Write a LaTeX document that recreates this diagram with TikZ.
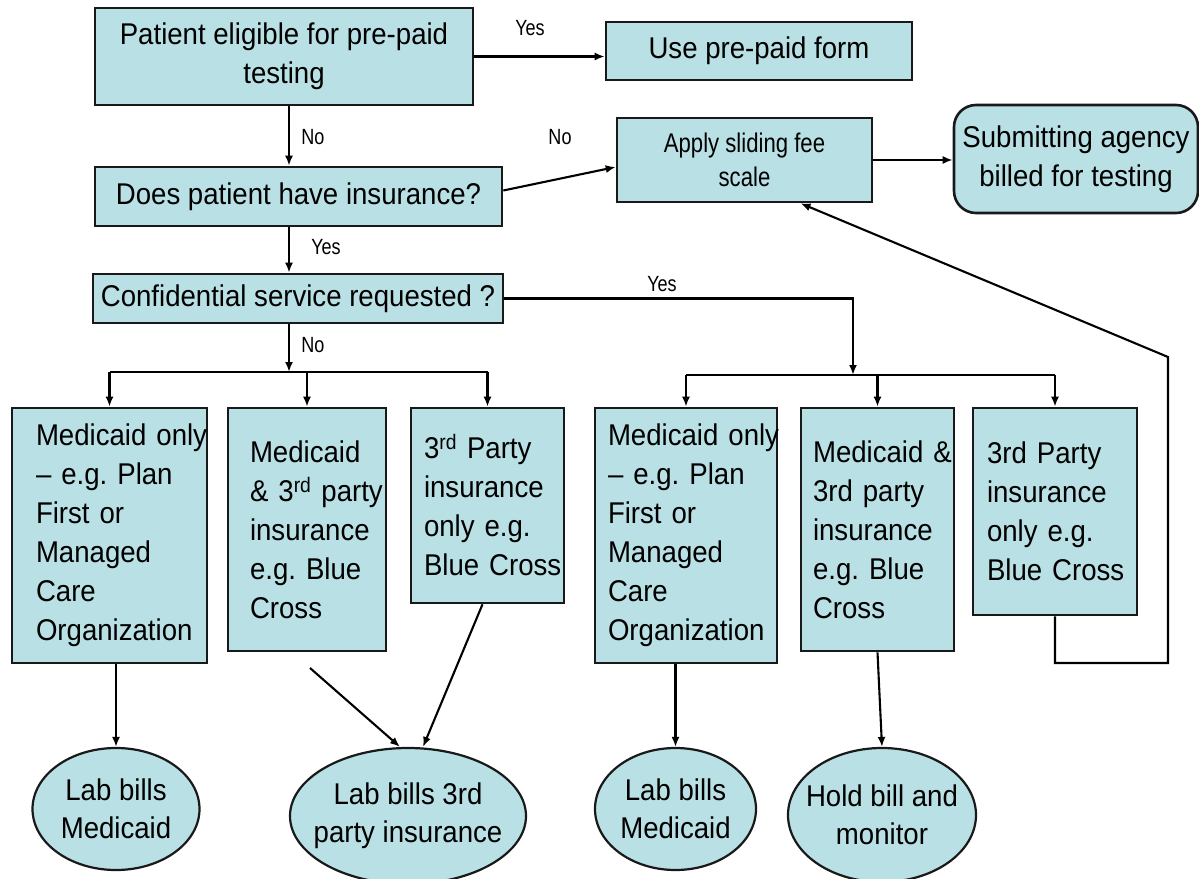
\documentclass[tikz,border=0pt]{standalone}
\usepackage{fontspec}
\setmainfont{Liberation Sans}[FakeStretch=0.92]
\newfontfamily\narrowfont{Liberation Sans}[FakeStretch=0.82]
\usetikzlibrary{arrows.meta,shapes.geometric,calc}

\definecolor{boxfill}{RGB}{185,224,228}

\begin{document}
\begin{tikzpicture}[x=1pt,y=-1pt,
  box/.style={draw=black!90, fill=boxfill, line width=2.6pt, inner sep=0pt, align=center,
    font=\fontsize{30}{39}\selectfont},
  cell/.style={box, align=left},
  bill/.style={ellipse, draw=black!90, fill=boxfill, line width=2.2pt, inner sep=-20pt,
    align=center, font=\fontsize{30}{38}\selectfont},
  arrow/.style={-{Latex[length=10pt,width=8pt]}, line width=2.1pt},
  bus/.style={line width=2.1pt},
  choice/.style={font=\narrowfont\fontsize{22}{24}\selectfont, inner sep=0pt}
]
  \useasboundingbox (0,0) rectangle (1199,878);

  % questions
  \node[box, minimum width=378pt, minimum height=97pt] (elig) at (284,56.5)
    {Patient eligible for pre-paid\\testing};
  \node[box, minimum width=306pt, minimum height=58pt] (prepaid) at (759,51)
    {Use pre-paid form};
  \node[box, minimum width=407pt, minimum height=59pt] (ins) at (298.5,196.5)
    {Does patient have insurance?};
  \node[box, minimum width=255pt, minimum height=84pt,
    font=\narrowfont\fontsize{27}{34}\selectfont] (apply) at (744.5,160)
    {Apply sliding fee\\scale};
  \node[box, rounded corners=22pt, minimum width=244pt, minimum height=108pt]
    (agency) at (1076,159) {Submitting agency\\billed for testing};
  \node[box, minimum width=410pt, minimum height=49pt] (conf) at (298,298.5)
    {Confidential service requested ?};

  % coverage
  \node[cell, minimum width=195pt, minimum height=255pt, text width=147pt]
    (l1) at (109.5,535.5)
    {Medicaid~only\\–~e.g.~Plan\\First~or\\Managed\\Care\\Organization};
  \node[cell, minimum width=158pt, minimum height=243pt, text width=114pt]
    (l2) at (307,529.5)
    {Medicaid\\\&~3\textsuperscript{rd}~party\\insurance\\e.g.~Blue\\Cross};
  \node[cell, minimum width=153pt, minimum height=195pt, text width=127pt]
    (l3) at (487.5,505.5)
    {3\textsuperscript{rd}~Party\\insurance\\only~e.g.\\Blue~Cross};
  \node[cell, minimum width=182pt, minimum height=255pt, text width=156pt]
    (r1) at (686,535.5)
    {Medicaid~only\\–~e.g.~Plan\\First~or\\Managed\\Care\\Organization};
  \node[cell, minimum width=153pt, minimum height=243pt, text width=129pt]
    (r2) at (877.5,529.5)
    {Medicaid~\&\\3rd~party\\insurance\\e.g.~Blue\\Cross};
  \node[cell, minimum width=164pt, minimum height=207pt, text width=136pt]
    (r3) at (1055,511.5)
    {3rd~Party\\insurance\\only~e.g.\\Blue~Cross};

  % billing
  \node[bill, minimum width=167pt, minimum height=122pt] (bill1) at (116,809)
    {Lab bills\\Medicaid};
  \node[bill, minimum width=236pt, minimum height=136pt] (bill2) at (408,816)
    {Lab bills 3rd\\party insurance};
  \node[bill, minimum width=161pt, minimum height=122pt] (bill3) at (675.5,809)
    {Lab bills\\Medicaid};
  \node[bill, minimum width=188pt, minimum height=134pt] (bill4) at (882,815)
    {Hold bill and\\monitor};

  \coordinate (trunk) at (289,372);
  \coordinate (branch) at (853,375);
  \coordinate (loopcorner) at (1168,663);
  \coordinate (loopup) at (1168,357);
  \coordinate (freeend) at (310,668);

  % yes / no
  \draw[arrow] (elig.east) -- (elig.east -| prepaid.west);
  \node[choice] (yesform) at (530,28) {Yes};
  \draw[arrow] (elig.south -| trunk) -- (ins.north -| trunk);
  \node[choice] (noelig) at (313,137) {No};
  \draw[arrow] ($(ins.east)+(0,-6)$) -- ($(apply.west)+(0,7)$);
  \node[choice] (noins) at (560,137) {No};
  \draw[arrow] (apply.east) -- (apply.east -| agency.west);
  \draw[arrow] (ins.south -| trunk) -- (conf.north -| trunk);
  \node[choice] (yesins) at (326,247) {Yes};
  \draw[arrow] (conf.south -| trunk) -- (trunk);
  \node[choice] (noconf) at (313,345) {No};
  \draw[arrow] (conf.east) -| (branch);
  \node[choice] (yesconf) at (662,284) {Yes};

  \draw[bus] (trunk -| l1.north) -- (trunk -| l3.north);
  \foreach \n in {l1,l2,l3}
    \draw[arrow] (trunk -| \n.north) -- (\n.north);
  \draw[bus] (branch -| r1.north) -- (branch -| r3.north);
  \foreach \n in {r1,r2,r3}
    \draw[arrow] (branch -| \n.north) -- (\n.north);

  \draw[arrow] (r3.south) |- (loopcorner) -- (loopup) -- ($(apply.south)+(56,0)$);

  \draw[arrow] (l1.south -| bill1.north) -- (bill1.north);
  \draw[arrow] (freeend) -- ($(bill2.north)+(-8,0)$);
  \draw[arrow] ($(l3.south)+(-5,0)$) -- ($(bill2.north)+(15,0)$);
  \draw[arrow] (r1.south -| bill3.north) -- (bill3.north);
  \draw[arrow] (r2.south) -- (bill4.north);

\end{tikzpicture}
\end{document}
